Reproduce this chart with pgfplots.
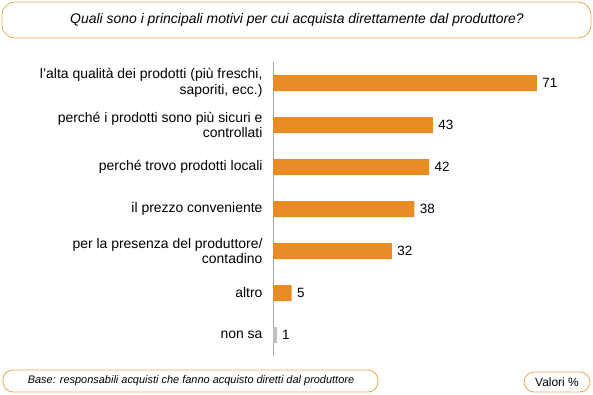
\documentclass[border=0pt]{standalone}
\usepackage{fontspec}
\setmainfont{Liberation Sans}
\usepackage{pgfplots}
\pgfplotsset{compat=1.18}
\definecolor{barorange}{RGB}{232,140,35}
\definecolor{bargray}{RGB}{192,192,192}
\definecolor{boxorange}{RGB}{238,168,80}
\begin{document}
\begin{tikzpicture}[x=1bp,y=1bp]
\useasboundingbox (0,0) rectangle (593,394);
% title box
\draw[boxorange, line width=0.8bp, rounded corners=13bp] (2,356) rectangle (591,392);
\node[font=\fontsize{14}{16}\selectfont\itshape] at (297,374) {Quali sono i principali motivi per cui acquista direttamente dal produttore?};
% base box
\draw[boxorange, line width=0.8bp, rounded corners=10bp] (3,2) rectangle (378,24);
\node[font=\fontsize{11}{13}\selectfont\itshape] at (191,13) {Base: responsabili acquisti che fanno acquisto diretti dal produttore};
\draw[boxorange, line width=0.8bp, rounded corners=10bp] (524,2) rectangle (590,22);
\node[font=\fontsize{12}{14}\selectfont] at (557,12) {Valori \%};
\begin{axis}[
  at={(273bp,38bp)}, anchor=south west,
  scale only axis, width=316bp, height=294bp,
  xbar, bar width=16bp, bar shift=0pt,
  xmin=0, xmax=85,
  ymin=-0.5, ymax=6.5, y dir=reverse,
  axis x line=none,
  axis y line*=left,
  y axis line style={draw=gray!70, line width=0.8bp, -},
  ytick={0,1,2,3,4,5,6},
  yticklabels={{l'alta qualità dei prodotti (più freschi,\\saporiti, ecc.)},
               {perché i prodotti sono più sicuri e\\controllati},
               {perché trovo prodotti locali},
               {il prezzo conveniente},
               {per la presenza del produttore/\\contadino},
               {altro},
               {non sa}},
  yticklabel style={align=right, font=\fontsize{14}{15.5}\selectfont, xshift=-7bp},
  major tick length=0pt,
  /pgf/number format/assume math mode=true,
  nodes near coords,
  nodes near coords style={font=\fontsize{13.5}{15}\selectfont, xshift=2bp},
  every node near coord/.append style={anchor=west},
  clip=false,
]
\addplot[fill=barorange, draw=none] coordinates {(71,0) (43,1) (42,2) (38,3) (32,4) (5,5)};
\addplot[fill=bargray, draw=none] coordinates {(1,6)};
\end{axis}
\end{tikzpicture}
\end{document}
